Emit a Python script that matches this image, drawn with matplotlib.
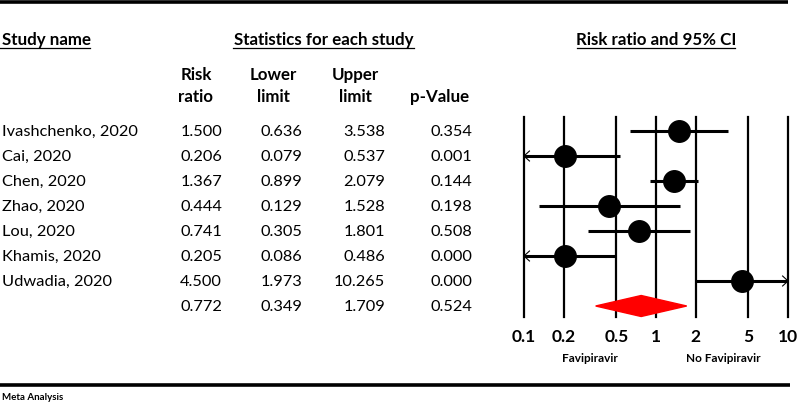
import numpy as np
import matplotlib.pyplot as plt
from matplotlib.patches import Polygon

plt.rcParams['font.family'] = ['Lato', 'DejaVu Sans']

# data
studies = ["Ivashchenko, 2020", "Cai, 2020", "Chen, 2020", "Zhao, 2020",
           "Lou, 2020", "Khamis, 2020", "Udwadia, 2020"]
risk_ratio = [1.500, 0.206, 1.367, 0.444, 0.741, 0.205, 4.500]
lower = [0.636, 0.079, 0.899, 0.129, 0.305, 0.086, 1.973]
upper = [3.538, 0.537, 2.079, 1.528, 1.801, 0.486, 10.265]
p_value = [0.354, 0.001, 0.144, 0.198, 0.508, 0.000, 0.000]
pooled = (0.772, 0.349, 1.709, 0.524)
ticks = [0.1, 0.2, 0.5, 1, 2, 5, 10]

W, H = 797, 406
fig = plt.figure(figsize=(W / 100, H / 100), dpi=100)
ax = fig.add_axes([0, 0, 1, 1])
ax.set_xlim(0, W)
ax.set_ylim(H, 0)
ax.axis('off')

row_y = [132 + 25 * i for i in range(len(studies) + 1)]

# rules
ax.plot([0, 788], [3, 3], color='black', lw=2.6, solid_capstyle='butt')
ax.plot([0, 790], [386, 386], color='black', lw=2.6, solid_capstyle='butt')
ax.text(2, 398, "Meta Analysis", fontsize=7, fontweight='bold', va='center')

# group headers
def header(x, y, s, x0, x1):
    ax.text(x, y, s, fontsize=12.2, fontweight='bold', ha='center', va='center')
    ax.plot([x0, x1], [49, 49], color='black', lw=0.9)

ax.text(2, 40, "Study name", fontsize=12.2, fontweight='bold', va='center')
ax.plot([0, 90], [49, 49], color='black', lw=0.9)
header(324, 40, "Statistics for each study", 233, 414)
header(656, 40, "Risk ratio and 95% CI", 577, 735)

cols = [(196, 222, "Risk\nratio"), (273, 302, "Lower\nlimit"),
        (355, 385, "Upper\nlimit"), (440, 472, "p-Value")]
for cx, rx, s in cols:
    ax.text(cx, 105, s, fontsize=12.2, fontweight='bold', ha='center', va='bottom',
            linespacing=1.45)

for i, name in enumerate(studies):
    y = row_y[i]
    ax.text(2, y, name, fontsize=11.8, va='center')
    vals = [risk_ratio[i], lower[i], upper[i], p_value[i]]
    for (cx, rx, _), v in zip(cols, vals):
        ax.text(rx, y, f"{v:.3f}", fontsize=11.8, ha='right', va='center')
for (cx, rx, _), v in zip(cols, pooled):
    ax.text(rx, row_y[-1], f"{v:.3f}", fontsize=11.8, ha='right', va='center')

# forest plot
fx = fig.add_axes([524 / W, 0, 264 / W, 1])
fx.set_xscale('log')
fx.set_xlim(0.1, 10)
fx.set_ylim(H, 0)
fx.axis('off')
for t in ticks:
    fx.plot([t, t], [118, 318], color='black', lw=1.6, clip_on=False)
    fx.text(t, 337, f"{t:g}", fontsize=12.5, fontweight='bold', ha='center',
            va='center', clip_on=False)
fx.text(0.316, 359, "Favipiravir", fontsize=8.5, fontweight='bold', ha='center', va='center')
fx.text(3.22, 359, "No Favipiravir", fontsize=8.5, fontweight='bold', ha='center', va='center')

for i in range(len(studies)):
    y = row_y[i]
    lo = max(lower[i], 0.1)
    hi = min(upper[i], 10)
    fx.plot([lo, hi], [y, y], color='black', lw=2.2, solid_capstyle='butt', clip_on=False)
    fx.plot(risk_ratio[i], y, 'o', color='black', ms=15.5, clip_on=False)
    if lower[i] < 0.1:
        fx.plot([0.11, 0.1, 0.11], [y - 5, y, y + 5], color='black', lw=0.8, clip_on=False)
    if upper[i] > 10:
        fx.plot([9.1, 10, 9.1], [y - 5, y, y + 5], color='black', lw=0.8, clip_on=False)

est, lo, hi, _ = pooled
yd = row_y[-1]
fx.add_patch(Polygon([[lo, yd], [est, yd - 10.5], [hi, yd], [est, yd + 10.5]],
                     closed=True, color='red', zorder=3, clip_on=False))

fig.savefig("out.png", dpi=100)
